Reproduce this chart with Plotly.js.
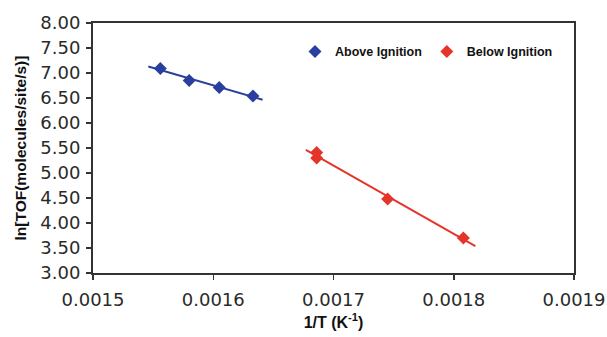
<!DOCTYPE html>
<html>
<head>
<meta charset="utf-8">
<script src="https://cdn.plot.ly/plotly-3.0.1.min.js"></script>
<style>html,body{margin:0;padding:0;background:#fff;}#chart{width:607px;height:337px;}</style>
</head>
<body>
<div id="chart"></div>
<script>
// Data
const aboveX = [0.001556, 0.001580, 0.001605, 0.001633];
const aboveY = [7.09, 6.85, 6.71, 6.54];
const belowX = [0.001686, 0.001686, 0.001745, 0.001808];
const belowY = [5.41, 5.30, 4.48, 3.70];
// x-extent of the fitted trendlines
const aboveFitRange = [0.001546, 0.001641];
const belowFitRange = [0.001677, 0.001818];
const xTickVals = [0.0015, 0.0016, 0.0017, 0.0018, 0.0019];
const xTickText = ['0.0015', '0.0016', '0.0017', '0.0018', '0.0019'];
const yTickVals = [3, 3.5, 4, 4.5, 5, 5.5, 6, 6.5, 7, 7.5, 8];
const yTickText = ['3.00','3.50','4.00','4.50','5.00','5.50','6.00','6.50','7.00','7.50','8.00'];

function fit(xs, ys, range) {
  const n = xs.length;
  const mx = xs.reduce((a,b)=>a+b,0)/n, my = ys.reduce((a,b)=>a+b,0)/n;
  let sxy = 0, sxx = 0;
  for (let i=0;i<n;i++){ sxy += (xs[i]-mx)*(ys[i]-my); sxx += (xs[i]-mx)**2; }
  const b = sxy/sxx, a = my - b*mx;
  return {x: range, y: range.map(v => a + b*v)};
}

const blue = '#2a3f9d', red = '#e5352b';
const fa = fit(aboveX, aboveY, aboveFitRange);
const fb = fit(belowX, belowY, belowFitRange);

const traces = [
  {x: fa.x, y: fa.y, mode: 'lines', line: {color: blue, width: 2}, showlegend: false, hoverinfo: 'skip'},
  {x: fb.x, y: fb.y, mode: 'lines', line: {color: red, width: 2}, showlegend: false, hoverinfo: 'skip'},
  {x: aboveX, y: aboveY, mode: 'markers', name: 'Above Ignition',
   marker: {symbol: 'diamond', size: 10, color: blue}},
  {x: belowX, y: belowY, mode: 'markers', name: 'Below Ignition',
   marker: {symbol: 'diamond', size: 10, color: red}}
];

const fontFam = 'Liberation Sans, Arial, sans-serif';
const tickFam = 'DejaVu Sans, Liberation Sans, sans-serif';
const layout = {
  width: 607, height: 337,
  margin: {l: 93, r: 33, t: 23, b: 64},
  paper_bgcolor: '#fff', plot_bgcolor: '#fff',
  font: {family: fontFam, color: '#222'},
  showlegend: true,
  legend: {orientation: 'h', x: 0.42, y: 0.885, xanchor: 'left', yanchor: 'middle',
           font: {size: 12.5, family: fontFam, color: '#111', weight: 'bold'},
           bgcolor: 'rgba(0,0,0,0)', itemwidth: 30, tracegroupgap: 0},
  xaxis: {
    range: [0.0015, 0.0019], tickvals: xTickVals, ticktext: xTickText,
    ticks: 'outside', ticklen: 5, tickwidth: 1.5, tickcolor: '#333',
    showline: true, linecolor: '#333', linewidth: 2, mirror: true,
    showgrid: false, zeroline: false, ticklabelstandoff: 4,
    tickfont: {size: 18, family: tickFam, color: '#2a2a2a'},
    title: {text: '<b>1/T (K<sup>-1</sup>)</b>', font: {size: 16, color: '#111'}, standoff: 8}
  },
  yaxis: {
    range: [3, 8], tickvals: yTickVals, ticktext: yTickText,
    ticks: 'outside', ticklen: 5, tickwidth: 1.5, tickcolor: '#333',
    showline: true, linecolor: '#333', linewidth: 2, mirror: true,
    showgrid: false, zeroline: false, ticklabelstandoff: 2,
    tickfont: {size: 18, family: tickFam, color: '#2a2a2a'},
    title: {text: '<b>ln[TOF(molecules/site/s)]</b>', font: {size: 15.5, color: '#111'}, standoff: 10}
  }
};

Plotly.newPlot('chart', traces, layout, {displayModeBar: false, staticPlot: true});
</script>
</body>
</html>
